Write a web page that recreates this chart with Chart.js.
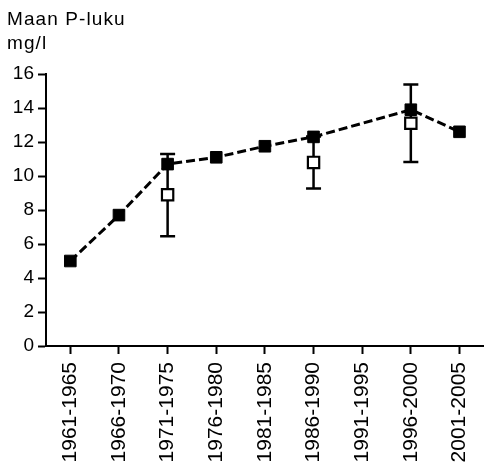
<!DOCTYPE html>
<html>
<head>
<meta charset="utf-8">
<script src="https://cdn.jsdelivr.net/npm/chart.js@4"></script>
<style>
  html, body { margin: 0; padding: 0; background: #fff; overflow: hidden; }
  #wrap { position: relative; width: 494px; height: 465px; }
  #title {
    position: absolute; left: 7px; top: 7px; z-index: 2;
    font-family: 'Liberation Sans', Arial, sans-serif;
    font-size: 19px; line-height: 24px; letter-spacing: 1.1px; color: #000;
  }
</style>
</head>
<body>
<div id="wrap">
  <div id="title">Maan P-luku<br>mg/l</div>
  <canvas id="chart"></canvas>
</div>
<script>
// Categories (5-year periods)
var periods = ['1961-1965', '1966-1970', '1971-1975', '1976-1980', '1981-1985',
               '1986-1990', '1991-1995', '1996-2000', '2001-2005'];

// Filled squares, dashed line (gap at 1991-1995 is spanned)
var filledValues = [5.0, 7.7, 10.7, 11.1, 11.75, 12.3, null, 13.9, 12.6];

// Open squares with error bars
var openValues = [null, null, 8.9, null, null, 10.8, null, 13.1, null];
var openLow    = [null, null, 6.45, null, null, 9.27, null, 10.82, null];
var openHigh   = [null, null, 11.3, null, null, 12.33, null, 15.38, null];

var yTicks = { min: 0, max: 16, step: 2 };

var FONT = "'Liberation Sans', Arial, sans-serif";

// Error bars, drawn under the markers
var errorBars = {
  id: 'errorBars',
  beforeDatasetsDraw: function(chart) {
    var ctx = chart.ctx;
    var xs = chart.scales.x, ys = chart.scales.y;
    ctx.save();
    ctx.strokeStyle = '#000';
    ctx.lineWidth = 2.5;
    openValues.forEach(function(v, i) {
      if (v === null) return;
      var x = xs.getPixelForValue(i);
      var yl = ys.getPixelForValue(openLow[i]);
      var yh = ys.getPixelForValue(openHigh[i]);
      ctx.beginPath();
      ctx.moveTo(x, yl); ctx.lineTo(x, yh);
      ctx.moveTo(x - 7.5, yl); ctx.lineTo(x + 7.5, yl);
      ctx.moveTo(x - 7.5, yh); ctx.lineTo(x + 7.5, yh);
      ctx.stroke();
    });
    ctx.restore();
  }
};

new Chart(document.getElementById('chart').getContext('2d'), {
  type: 'line',
  data: {
    labels: periods,
    datasets: [
      {
        label: 'filled',
        data: filledValues,
        order: 0,
        spanGaps: true,
        borderColor: '#000',
        borderWidth: 3,
        borderDash: [9, 4],
        tension: 0,
        fill: false,
        pointStyle: 'rect',
        pointRadius: 8.2,
        pointBackgroundColor: '#000',
        pointBorderColor: '#000',
        pointBorderWidth: 1
      },
      {
        label: 'open',
        data: openValues,
        order: 1,
        showLine: false,
        pointStyle: 'rect',
        pointRadius: 8,
        pointBackgroundColor: '#fff',
        pointBorderColor: '#000',
        pointBorderWidth: 2.2
      }
    ]
  },
  options: {
    responsive: true,
    maintainAspectRatio: false,
    animation: false,
    events: [],
    layout: { padding: { top: 74, left: 0, right: 0, bottom: 0 } },
    plugins: {
      legend: { display: false },
      tooltip: { enabled: false },
      title: { display: false }
    },
    scales: {
      x: {
        type: 'category',
        offset: true,
        afterFit: function(s) { s.height = 119; },
        grid: {
          offset: false,
          drawOnChartArea: false,
          drawTicks: true,
          tickLength: 8,
          tickColor: '#000',
          tickWidth: 2
        },
        border: { display: true, color: '#000', width: 2 },
        ticks: {
          autoSkip: false,
          minRotation: 90,
          maxRotation: 90,
          padding: 8,
          color: '#000',
          font: { family: FONT, size: 21 }
        }
      },
      y: {
        min: yTicks.min,
        max: yTicks.max,
        afterFit: function(s) { s.width = 46; },
        grid: {
          drawOnChartArea: false,
          drawTicks: true,
          tickLength: 8,
          tickColor: '#000',
          tickWidth: 2
        },
        border: { display: true, color: '#000', width: 2 },
        ticks: {
          stepSize: yTicks.step,
          padding: 4,
          color: '#000',
          font: { family: FONT, size: 19 }
        }
      }
    }
  },
  plugins: [errorBars]
});
</script>
</body>
</html>
